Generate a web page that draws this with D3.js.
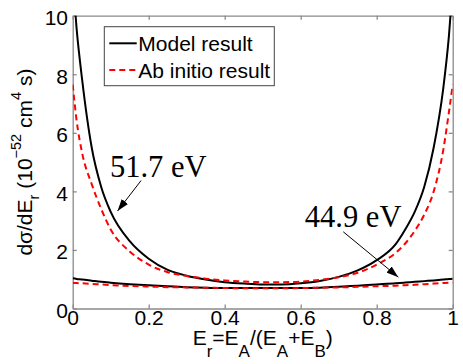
<!DOCTYPE html>
<html>
<head>
<meta charset="utf-8">
<script src="https://cdn.jsdelivr.net/npm/d3@7/dist/d3.min.js"></script>
<style>
    body { margin: 0; background: #fff; }
    svg { display: block; }
    .axis path, .axis line { stroke: #8a8a8a; stroke-width: 1.3; }
    .axis text { font-family: "Liberation Sans", Arial, sans-serif; font-size: 21px; fill: #000; }
</style>
</head>
<body>
<svg id="chart" width="463" height="364"></svg>
<script>
"use strict";

var energyShare = [0, 0.01, 0.025, 0.05, 0.075, 0.1, 0.15, 0.2, 0.25, 0.3, 0.35, 0.4, 0.45, 0.5,
    0.55, 0.6, 0.65, 0.7, 0.75, 0.8, 0.85, 0.875, 0.9, 0.925, 0.95, 0.975, 0.99, 1];

// 51.7 eV
var model517 = [11.3, 9.6, 7.8, 5.5, 4.15, 3.3, 2.3, 1.7, 1.32, 1.12, 0.99, 0.9, 0.85, 0.82,
    0.82, 0.86, 0.94, 1.08, 1.3, 1.65, 2.2, 2.7, 3.3, 4.15, 5.5, 7.5, 9.3, 11];
var abInitio517 = [7.65, 6.45, 5.3, 4.25, 3.4, 2.7, 1.95, 1.5, 1.24, 1.11, 1.02, 0.96, 0.92, 0.9,
    0.9, 0.92, 0.98, 1.07, 1.22, 1.5, 1.9, 2.22, 2.65, 3.2, 4.0, 5.4, 6.7, 7.65];

// 44.9 eV
var model449 = [1.03, 1.01, 0.99, 0.95, 0.91, 0.88, 0.83, 0.79, 0.76, 0.73, 0.71, 0.7, 0.7, 0.7,
    0.7, 0.7, 0.71, 0.74, 0.78, 0.82, 0.86, 0.885, 0.91, 0.935, 0.96, 0.99, 1.01, 1.02];
var abInitio449 = [0.88, 0.87, 0.86, 0.84, 0.82, 0.8, 0.77, 0.75, 0.73, 0.72, 0.71, 0.7, 0.69, 0.69,
    0.69, 0.7, 0.71, 0.72, 0.74, 0.76, 0.78, 0.795, 0.81, 0.83, 0.85, 0.87, 0.88, 0.88];

var xTicks = [0, 0.2, 0.4, 0.6, 0.8, 1];
var xTickLabels = ["0", "0.2", "0.4", "0.6", "0.8", "1"];
var yTicks = [0, 2, 4, 6, 8, 10];
var yTickLabels = ["0", "2", "4", "6", "8", "10"];

var legendLabels = ["Model result", "Ab initio result"];

// annotation labels: text anchor and arrow from/to, in data units
var annotations = [
    { label: "51.7 eV", text: [0.098, 4.5], from: [0.18, 4.37], to: [0.118, 3.33] },
    { label: "44.9 eV", text: [0.611, 2.79], from: [0.712, 2.62], to: [0.857, 1.07] }
];

var margin = { left: 72.7, right: 10.3, top: 15.7, bottom: 55.5 };
var width = 463 - margin.left - margin.right;
var height = 364 - margin.top - margin.bottom;

var svg = d3.select("#chart");
var g = svg.append("g").attr("transform", "translate(" + margin.left + "," + margin.top + ")");

var x = d3.scaleLinear().domain([0, 1]).range([0, width]);
var y = d3.scaleLinear().domain([0, 10]).range([height, 0]);

g.append("clipPath").attr("id", "plotClip")
    .append("rect").attr("width", width).attr("height", height);

// axes (ticks inside, box on)
g.append("g").attr("class", "axis")
    .attr("transform", "translate(0," + height + ")")
    .call(d3.axisBottom(x).tickValues(xTicks).tickSize(-4).tickSizeOuter(0).tickPadding(2)
        .tickFormat(function(d, i) { return xTickLabels[i]; }));

var leftAxis = g.append("g").attr("class", "axis")
    .call(d3.axisLeft(y).tickValues(yTicks).tickSize(-4).tickSizeOuter(0).tickPadding(4.7)
        .tickFormat(function(d, i) { return yTickLabels[i]; }));
leftAxis.selectAll("text").attr("dy", null).attr("y", 9);

g.append("g").attr("class", "axis")
    .call(d3.axisTop(x).tickValues(xTicks).tickSize(-4).tickSizeOuter(0).tickFormat(""));
g.append("g").attr("class", "axis")
    .attr("transform", "translate(" + width + ",0)")
    .call(d3.axisRight(y).tickValues(yTicks).tickSize(-4).tickSizeOuter(0).tickFormat(""));

// curves
var line = d3.line()
    .x(function(d) { return x(d[0]); })
    .y(function(d) { return y(d[1]); })
    .curve(d3.curveMonotoneX);

var series = [
    { values: model517, color: "#000", dash: null },
    { values: abInitio517, color: "#ff0000", dash: "6,4" },
    { values: model449, color: "#000", dash: null },
    { values: abInitio449, color: "#ff0000", dash: "6,4" }
];

var plot = g.append("g").attr("clip-path", "url(#plotClip)");
series.forEach(function(s) {
    plot.append("path")
        .datum(d3.zip(energyShare, s.values))
        .attr("fill", "none")
        .attr("stroke", s.color)
        .attr("stroke-width", 2)
        .attr("stroke-dasharray", s.dash)
        .attr("d", line);
});

// annotations
svg.append("defs").append("marker")
    .attr("id", "arrowHead")
    .attr("viewBox", "0 0 12 8")
    .attr("refX", 12).attr("refY", 4)
    .attr("markerWidth", 12).attr("markerHeight", 8)
    .attr("markerUnits", "userSpaceOnUse")
    .attr("orient", "auto")
    .append("path").attr("d", "M0,0L12,4L0,8Z").attr("fill", "#000");

annotations.forEach(function(a) {
    g.append("line")
        .attr("x1", x(a.from[0])).attr("y1", y(a.from[1]))
        .attr("x2", x(a.to[0])).attr("y2", y(a.to[1]))
        .attr("stroke", "#000").attr("stroke-width", 1)
        .attr("marker-end", "url(#arrowHead)");
    g.append("text")
        .attr("x", x(a.text[0])).attr("y", y(a.text[1]))
        .style("font-family", "'Liberation Serif', 'Times New Roman', serif")
        .style("font-size", "30.5px")
        .text(a.label);
});

// legend
var legend = svg.append("g").attr("transform", "translate(104.3,26.7)");
legend.append("rect")
    .attr("width", 170).attr("height", 59)
    .attr("fill", "#fff").attr("stroke", "#444").attr("stroke-width", 1);
legendLabels.forEach(function(label, i) {
    var row = legend.append("g").attr("transform", "translate(0," + (16.6 + i * 26.7) + ")");
    row.append("line")
        .attr("x1", 5).attr("x2", 32.4)
        .attr("stroke", series[i].color).attr("stroke-width", 2)
        .attr("stroke-dasharray", series[i].dash);
    row.append("text")
        .attr("x", 34).attr("y", 8)
        .style("font-family", "'Liberation Sans', Arial, sans-serif")
        .style("font-size", "21px")
        .text(label);
});

// axis labels
var labelFont = "'Liberation Sans', Arial, sans-serif";

var xLabel = svg.append("text")
    .attr("x", margin.left + width / 2).attr("y", 345)
    .attr("text-anchor", "middle")
    .style("font-family", labelFont).style("font-size", "21px");
[["E", 0], ["r", 1], ["=E", 0], ["A", 1], ["/(E", 0], ["A", 1], ["+E", 0], ["B", 1], [")", 0]]
    .forEach(function(p, i, all) {
        var prev = i > 0 ? all[i - 1][1] : 0;
        xLabel.append("tspan")
            .attr("dy", p[1] === prev ? 0 : (p[1] ? 12 : -12))
            .style("font-size", p[1] ? "17px" : "21px")
            .text(p[0]);
    });

var yLabel = svg.append("text")
    .attr("transform", "translate(31.7," + (margin.top + height / 2) + ") rotate(-90)")
    .attr("text-anchor", "middle")
    .style("font-family", labelFont).style("font-size", "21px");
// shift: 0 = normal, 1 = subscript, -1 = superscript
var yParts = [["dσ/dE", 0], ["r", 1], [" (10", 0], ["−52", -1], [" cm", 0], ["4", -1], [" s)", 0]];
var shift = { "0": 0, "1": 7, "-1": -11 };
yParts.forEach(function(p, i) {
    var prev = i > 0 ? yParts[i - 1][1] : 0;
    yLabel.append("tspan")
        .attr("dy", shift[p[1]] - shift[prev])
        .style("font-size", p[1] ? "14.5px" : "21px")
        .text(p[0]);
});
</script>
</body>
</html>
